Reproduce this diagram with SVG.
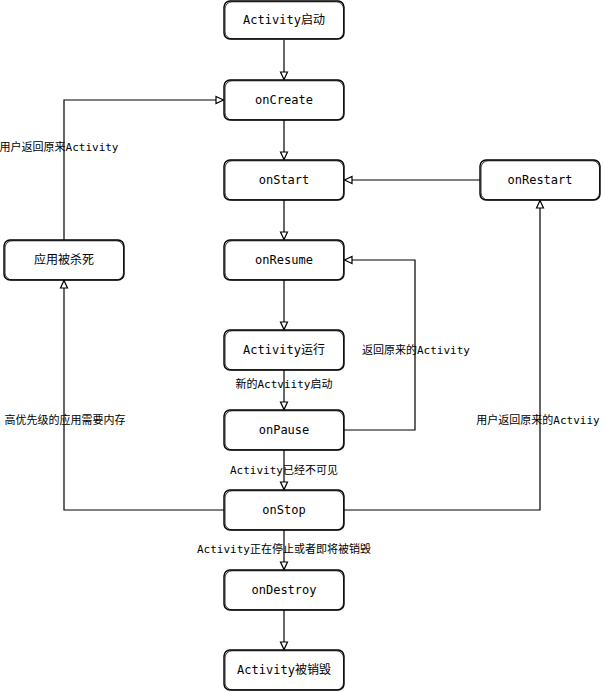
<svg xmlns="http://www.w3.org/2000/svg" width="605" height="692" viewBox="0 0 605 692">
<style>
.box{fill:#fff;stroke:#000;stroke-width:1.4}
.box2{fill:none;stroke:#000;stroke-width:0.8}
.nt{font-family:"DejaVu Sans Mono","Noto Sans CJK SC",monospace;font-size:12px;fill:#000;text-anchor:middle;dominant-baseline:central}
.lt{font-family:"DejaVu Sans Mono","Noto Sans CJK SC",monospace;font-size:11px;fill:#000;text-anchor:middle;dominant-baseline:central}
.ln{fill:none;stroke:#000;stroke-width:1.2}
</style>
<defs>
<marker id="ar" markerWidth="10" markerHeight="10" refX="8" refY="5" orient="auto" markerUnits="userSpaceOnUse">
<path d="M1,1.5 L8.5,5 L1,8.5 Z" fill="#fff" stroke="#000" stroke-width="1.2"/>
</marker>
</defs>
<g id="connectors">
<path class="ln" d="M284,40 V79" marker-end="url(#ar)"/>
<path class="ln" d="M284,120 V159" marker-end="url(#ar)"/>
<path class="ln" d="M284,200 V239" marker-end="url(#ar)"/>
<path class="ln" d="M284,280 V329" marker-end="url(#ar)"/>
<path class="ln" d="M284,370 V409" marker-end="url(#ar)"/>
<path class="ln" d="M284,450 V489" marker-end="url(#ar)"/>
<path class="ln" d="M284,530 V569" marker-end="url(#ar)"/>
<path class="ln" d="M284,610 V649" marker-end="url(#ar)"/>
<path class="ln" d="M480,180 H345" marker-end="url(#ar)"/>
<path class="ln" d="M344,430 H415 V260 H345" marker-end="url(#ar)"/>
<path class="ln" d="M224,510 H64 V281" marker-end="url(#ar)"/>
<path class="ln" d="M64,240 V100 H223" marker-end="url(#ar)"/>
<path class="ln" d="M344,510 H540 V201" marker-end="url(#ar)"/>
<text class="lt" x="59" y="147">用户返回原来Activity</text>
<text class="lt" x="65" y="420">高优先级的应用需要内存</text>
<text class="lt" x="538" y="420">用户返回原来的Actviiy</text>
<text class="lt" x="416" y="350">返回原来的Activity</text>
<text class="lt" x="284" y="384">新的Actviity启动</text>
<text class="lt" x="284" y="470">Activity已经不可见</text>
<text class="lt" x="284" y="549">Activity正在停止或者即将被销毁</text>
</g>
<g id="n-start"><rect class="box" x="224" y="1" width="120" height="38" rx="6"/><rect class="box2" x="225" y="1.8" width="118.5" height="37" rx="7"/><text class="nt" x="284" y="20">Activity启动</text></g>
<g id="n-oncreate"><rect class="box" x="224" y="80" width="120" height="40" rx="6"/><rect class="box2" x="225" y="80.8" width="118.5" height="39" rx="7"/><text class="nt" x="284" y="100">onCreate</text></g>
<g id="n-onstart"><rect class="box" x="224" y="160" width="120" height="40" rx="6"/><rect class="box2" x="225" y="160.8" width="118.5" height="39" rx="7"/><text class="nt" x="284" y="180">onStart</text></g>
<g id="n-onresume"><rect class="box" x="224" y="240" width="120" height="40" rx="6"/><rect class="box2" x="225" y="240.8" width="118.5" height="39" rx="7"/><text class="nt" x="284" y="260">onResume</text></g>
<g id="n-running"><rect class="box" x="224" y="330" width="120" height="40" rx="6"/><rect class="box2" x="225" y="330.8" width="118.5" height="39" rx="7"/><text class="nt" x="284" y="350">Activity运行</text></g>
<g id="n-onpause"><rect class="box" x="224" y="410" width="120" height="40" rx="6"/><rect class="box2" x="225" y="410.8" width="118.5" height="39" rx="7"/><text class="nt" x="284" y="430">onPause</text></g>
<g id="n-onstop"><rect class="box" x="224" y="490" width="120" height="40" rx="6"/><rect class="box2" x="225" y="490.8" width="118.5" height="39" rx="7"/><text class="nt" x="284" y="510">onStop</text></g>
<g id="n-ondestroy"><rect class="box" x="224" y="570" width="120" height="40" rx="6"/><rect class="box2" x="225" y="570.8" width="118.5" height="39" rx="7"/><text class="nt" x="284" y="590">onDestroy</text></g>
<g id="n-destroyed"><rect class="box" x="224" y="650" width="120" height="40" rx="6"/><rect class="box2" x="225" y="650.8" width="118.5" height="39" rx="7"/><text class="nt" x="284" y="670">Activity被销毁</text></g>
<g id="n-onrestart"><rect class="box" x="480" y="160" width="120" height="40" rx="6"/><rect class="box2" x="481" y="160.8" width="118.5" height="39" rx="7"/><text class="nt" x="540" y="180">onRestart</text></g>
<g id="n-killed"><rect class="box" x="4" y="240" width="120" height="40" rx="6"/><rect class="box2" x="5" y="240.8" width="118.5" height="39" rx="7"/><text class="nt" x="64" y="260">应用被杀死</text></g>
</svg>
